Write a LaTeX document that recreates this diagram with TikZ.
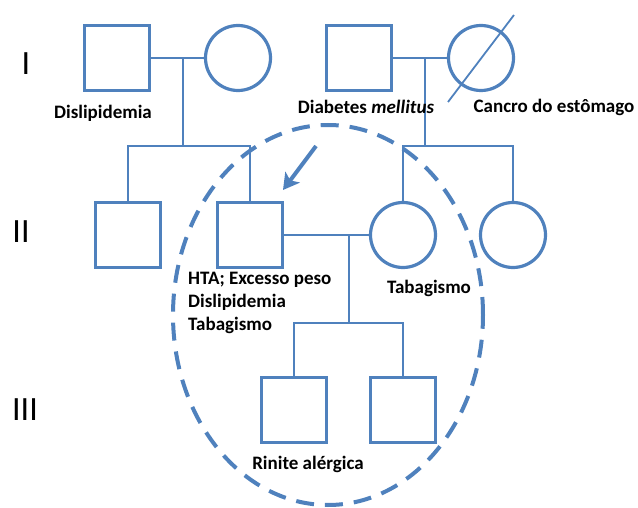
\documentclass[tikz,border=0pt]{standalone}
\usepackage{fontspec}
\setmainfont{Carlito}
\usetikzlibrary{arrows.meta}
\definecolor{pedblue}{RGB}{79,129,189}

\begin{document}
\begin{tikzpicture}[x=1pt, y=-1pt,
  male/.style = {draw=pedblue, line width=3.2pt, minimum size=65pt,
    inner sep=0pt},
  female/.style = {male, circle},
  lbl/.style = {font=\fontsize{19}{23}\selectfont\bfseries, inner sep=0pt},
  gen/.style = {font=\fontsize{34}{34}\selectfont, inner sep=0pt},
  line/.style = {draw=pedblue, line width=1.8pt},
  arr/.style = {draw=pedblue, line width=4pt, -{Stealth[length=16pt,width=18pt,inset=4pt]}}
  ]
  \useasboundingbox (0,0) rectangle (638,508);

  % generations
  \node (g1) [gen] at (26,64)  {I};
  \node (g2) [gen] at (21,232) {II};
  \node (g3) [gen] at (25,410) {III};

  % generation I
  \node (i1) [male]   at (117,58) {};
  \node (i2) [female] at (238,58) {};
  \node (i3) [male]   at (359,58) {};
  \node (i4) [female] at (481,58) {};
  \coordinate (d1) at (448,102);
  \coordinate (d2) at (514,15);
  \draw[line] (d1) -- (d2);

  % generation II
  \node (ii1) [male]   at (128,235) {};
  \node (ii2) [male]   at (250,235) {};
  \node (ii3) [female] at (403,235) {};
  \node (ii4) [female] at (513,235) {};

  % generation III
  \node (iii1) [male] at (294,410) {};
  \node (iii2) [male] at (403,410) {};

  % couples and children
  \coordinate (m1) at (183,58);
  \coordinate (s1) at (183,146);
  \draw[line] (i1) -- (i2);
  \draw[line] (m1) -- (s1);
  \draw[line] (ii1.north) |- (s1) -| (ii2.north);

  \coordinate (m2) at (425,58);
  \coordinate (s2) at (425,146);
  \draw[line] (i3) -- (i4);
  \draw[line] (m2) -- (s2);
  \draw[line] (ii3.north) |- (s2) -| (ii4.north);

  \coordinate (m3) at (349,235);
  \coordinate (s3) at (349,323);
  \draw[line] (ii2) -- (ii3);
  \draw[line] (m3) -- (s3);
  \draw[line] (iii1.north) |- (s3) -| (iii2.north);

  % labels
  \node (l1) [lbl] at (103,113) {Dislipidemia};
  \node (l2) [lbl] at (366,107) {Diabetes \textit{mellitus}};
  \node (l3) [lbl] at (554,107) {Cancro do estômago};
  \node (l4) [lbl, align=left, anchor=north west] at (188,272)
    {HTA; Excesso peso\\Dislipidemia\\Tabagismo};
  \node (l5) [lbl] at (429,288) {Tabagismo};
  \node (l6) [lbl] at (308,464) {Rinite alérgica};

  % proband
  \draw[pedblue, line width=4pt, dash pattern=on 18pt off 11pt]
    (328,315) ellipse [x radius=155pt, y radius=190pt];
  \coordinate (p0) at (316,146);
  \coordinate (p1) at (283,190);
  \draw[arr] (p0) -- (p1);
\end{tikzpicture}
\end{document}
